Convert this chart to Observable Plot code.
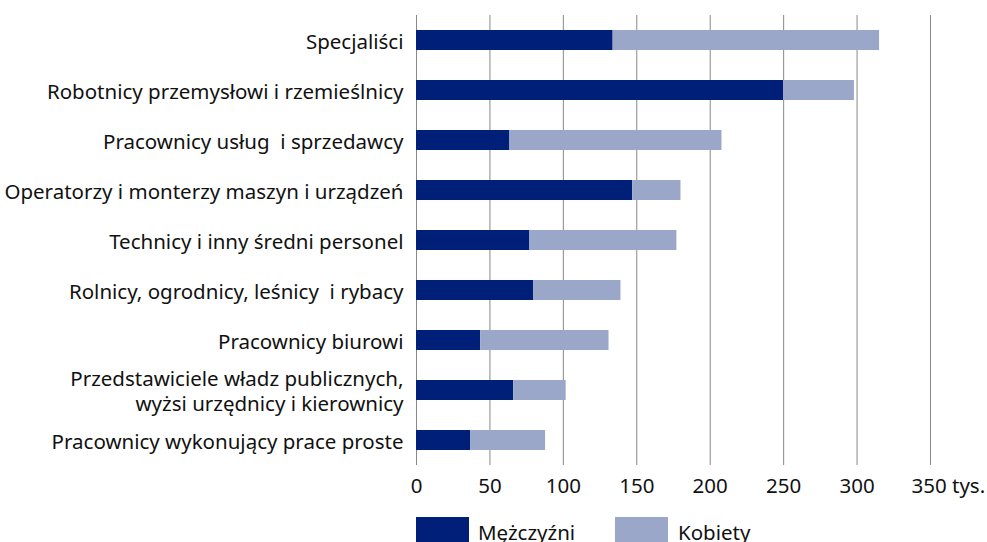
<!DOCTYPE html>
<html>
<head>
<meta charset="utf-8">
<script src="https://cdn.jsdelivr.net/npm/d3@7"></script>
<script src="https://cdn.jsdelivr.net/npm/@observablehq/plot@0.6"></script>
<style>
  html, body { margin: 0; padding: 0; background: #fff; }
  body { width: 987px; height: 542px; overflow: hidden; font-family: "Noto Sans", sans-serif; }
  #legend { position: relative; height: 37px; }
  .sw { position: absolute; top: 12px; width: 53px; height: 30px; }
  .lt { position: absolute; top: 12px; font-size: 20.5px; color: #111; line-height: 30px; }
</style>
</head>
<body>
<div id="chart"></div>
<div id="legend"></div>
<script>
const categories = [
  "Specjaliści",
  "Robotnicy przemysłowi i rzemieślnicy",
  "Pracownicy usług  i sprzedawcy",
  "Operatorzy i monterzy maszyn i urządzeń",
  "Technicy i inny średni personel",
  "Rolnicy, ogrodnicy, leśnicy  i rybacy",
  "Pracownicy biurowi",
  "Przedstawiciele władz publicznych,\nwyżsi urzędnicy i kierownicy",
  "Pracownicy wykonujący prace proste"
];
const men   = [133.9, 249.9, 63.6, 147.2, 77.2, 79.7, 43.7, 66.2, 36.8];
const women = [181.4, 48.3, 144.4, 32.9, 100.1, 59.5, 87.4, 35.7, 51.1];
const seriesNames = ["Mężczyźni", "Kobiety"];
const seriesColors = ["#001f78", "#9aa7c9"];
const xTicks = [0, 50, 100, 150, 200, 250, 300];
const lastTick = [350];
const unit = "tys.";

const data = [];
categories.forEach((c, i) => {
  data.push({cat: c, series: seriesNames[0], value: men[i]});
  data.push({cat: c, series: seriesNames[1], value: women[i]});
});

const font = "Noto Sans";
const fs = 20.5;
const chart = Plot.plot({
  width: 987,
  height: 505,
  marginLeft: 416,
  marginRight: 57,
  marginTop: 15,
  marginBottom: 40,
  style: {fontFamily: font, fontSize: fs + "px", color: "#111", background: "#fff"},
  x: {domain: [0, 350], label: null},
  y: {domain: categories, paddingInner: 0.6, paddingOuter: 0.3, label: null},
  color: {domain: seriesNames, range: seriesColors},
  marks: [
    Plot.gridX(xTicks.concat(lastTick), {stroke: "#888", strokeOpacity: 1, strokeWidth: 1}),
    Plot.barX(data, Plot.stackX({y: "cat", x: "value", fill: "series", order: seriesNames})),
    Plot.axisY({tickSize: 0, tickPadding: 13, fontSize: fs, lineHeight: 1.22}),
    Plot.axisX(xTicks, {tickSize: 0, tickPadding: 13, fontSize: fs, tickFormat: d => String(d)}),
    Plot.axisX(lastTick, {tickSize: 0, tickPadding: 13, fontSize: fs, textAnchor: "start", dx: -19, tickFormat: d => d + " " + unit})
  ]
});
document.getElementById("chart").appendChild(chart);

const legend = document.getElementById("legend");
const legendX = [[416, 478], [615, 678]];
seriesNames.forEach((n, i) => {
  const s = document.createElement("div");
  s.className = "sw"; s.style.left = legendX[i][0] + "px"; s.style.background = seriesColors[i];
  const t = document.createElement("div");
  t.className = "lt"; t.style.left = legendX[i][1] + "px"; t.textContent = n;
  legend.appendChild(s); legend.appendChild(t);
});
</script>
</body>
</html>
